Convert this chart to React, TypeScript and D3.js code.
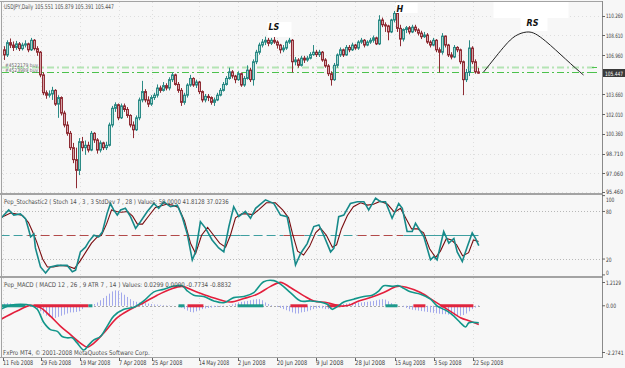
import React, { useLayoutEffect, useRef, useState } from 'react';
import * as d3 from 'd3';

// ---------- DATA ----------
const opens = [
  107.40,106.97,108.00,107.80,107.60,107.90,107.50,107.80,107.90,107.40,
  108.20,107.50,107.20,105.30,103.80,103.60,103.70,104.00,102.85,103.40,
  102.10,101.10,100.40,99.20,98.20,97.30,99.70,99.20,99.40,99.00,
  100.40,99.85,99.00,99.60,99.20,99.40,101.10,102.50,102.80,101.70,
  102.70,102.40,101.90,101.10,100.70,101.70,103.20,103.90,103.20,102.85,
  103.40,103.60,104.20,104.00,104.40,104.20,104.90,105.30,104.50,104.00,
  103.00,103.60,104.45,105.00,104.45,104.70,103.90,103.20,103.50,103.40,
  103.00,103.20,103.60,104.00,104.50,105.00,105.55,105.20,104.90,105.40,
  104.45,105.00,105.70,104.90,106.40,107.20,107.80,108.05,108.20,107.95,
  108.20,108.05,107.80,107.40,107.55,108.05,108.20,106.40,106.55,106.10,
  106.70,106.55,106.70,107.00,107.20,107.00,107.20,106.55,106.05,105.40,
  104.90,106.10,106.97,107.40,106.97,107.60,107.40,107.80,107.55,108.05,
  108.20,107.80,108.05,108.20,108.40,107.90,109.90,109.50,109.40,108.90,
  109.90,110.45,109.20,108.30,109.10,109.25,108.90,109.30,109.06,108.80,
  108.50,108.64,108.05,107.80,108.20,107.40,107.20,108.55,107.80,106.97,
  106.80,107.60,107.40,106.40,104.90,105.50,107.55,106.40,105.551,
];
const highs = [
  107.70,108.20,108.35,108.10,108.15,108.05,108.00,108.20,108.00,108.40,
  108.30,107.70,107.30,105.50,104.00,104.00,104.30,104.10,103.60,103.50,
  102.30,101.40,100.60,99.60,99.20,100.00,100.10,99.80,99.70,100.60,
  100.50,100.00,99.80,99.70,99.70,101.30,102.70,103.00,102.90,102.90,
  102.90,102.60,102.00,101.40,101.90,103.40,104.80,104.10,103.50,103.60,
  103.80,104.50,104.40,104.70,104.60,105.10,105.50,105.40,104.70,104.20,
  103.80,104.60,105.30,105.10,104.90,104.80,104.00,103.70,103.70,103.50,
  103.40,103.80,104.20,104.70,105.20,105.90,105.70,105.30,105.60,105.50,
  105.20,106.10,105.90,106.60,107.40,108.00,108.30,108.50,108.40,108.40,
  108.60,108.20,107.90,107.80,108.20,108.40,108.30,106.80,106.70,106.90,
  106.90,106.90,107.20,107.80,107.40,107.40,107.30,106.70,106.20,105.60,
  106.30,107.10,107.60,107.50,107.80,107.80,108.00,107.90,108.20,108.40,
  108.30,108.20,108.40,108.60,108.50,110.30,110.10,109.70,109.50,110.00,
  110.66,110.50,109.50,109.20,109.40,109.40,109.50,109.50,109.20,109.00,
  108.90,108.80,108.20,108.40,108.30,107.60,108.80,108.60,107.90,107.20,
  107.80,107.70,107.50,106.50,105.80,108.20,107.70,106.60,105.879,
];
const lows = [
  106.55,106.80,107.55,107.30,107.40,107.30,107.35,107.60,107.20,107.30,
  107.35,106.90,105.10,103.60,103.30,103.40,103.20,102.70,101.70,101.90,
  100.90,100.20,99.00,97.90,95.80,96.90,98.90,98.60,98.80,98.90,
  99.60,98.70,98.80,99.00,99.00,99.30,100.90,102.20,101.50,101.60,
  102.20,101.70,100.90,100.00,100.60,101.50,103.00,103.00,102.60,102.70,
  103.20,103.40,103.80,103.90,104.00,104.00,104.70,104.40,103.80,102.70,
  102.80,103.40,104.30,104.30,104.20,103.70,103.00,103.00,103.10,102.80,
  102.70,103.10,103.50,103.90,104.40,104.90,105.00,104.60,104.80,104.30,
  104.30,104.90,104.70,104.40,106.20,107.00,107.60,107.80,107.70,107.80,
  107.90,107.50,107.10,107.20,107.40,107.90,105.50,106.10,105.90,106.00,
  106.30,106.40,106.60,106.90,106.80,106.80,106.40,105.90,105.20,104.40,
  104.80,105.90,106.80,106.80,106.90,107.20,107.30,107.40,107.40,107.90,
  107.60,107.70,107.90,108.00,107.80,107.80,109.30,108.90,108.20,108.80,
  109.70,108.90,107.70,108.10,108.80,108.70,108.80,108.90,108.60,108.30,
  108.40,107.90,107.60,107.70,107.20,105.50,107.00,107.60,106.80,106.60,
  106.70,107.20,106.20,103.60,104.70,105.20,106.20,105.40,105.391,
];
const closes = [
  106.97,108.00,107.80,107.60,107.90,107.50,107.80,107.90,107.40,108.20,
  107.50,107.20,105.30,103.80,103.60,103.70,104.00,102.85,103.40,102.10,
  101.10,100.40,99.20,98.20,97.30,99.70,99.20,99.40,99.00,100.40,
  99.85,99.00,99.60,99.20,99.40,101.10,102.50,102.80,101.70,102.70,
  102.40,101.90,101.10,100.70,101.70,103.20,103.90,103.20,102.85,103.40,
  103.60,104.20,104.00,104.40,104.20,104.90,105.30,104.50,104.00,103.00,
  103.60,104.45,105.00,104.45,104.70,103.90,103.20,103.50,103.40,103.00,
  103.20,103.60,104.00,104.50,105.00,105.55,105.20,104.90,105.40,104.45,
  105.00,105.70,104.90,106.40,107.20,107.80,108.05,108.20,107.95,108.20,
  108.05,107.80,107.40,107.55,108.05,108.20,106.40,106.55,106.10,106.70,
  106.55,106.70,107.00,107.20,107.00,107.20,106.55,106.05,105.40,104.90,
  106.10,106.97,107.40,106.97,107.60,107.40,107.80,107.55,108.05,108.20,
  107.80,108.05,108.20,108.40,107.90,109.90,109.50,109.40,108.90,109.90,
  110.45,109.20,108.30,109.10,109.25,108.90,109.30,109.06,108.80,108.50,
  108.64,108.05,107.80,108.20,107.40,107.20,108.55,107.80,106.97,106.80,
  107.60,107.40,106.40,104.90,105.50,107.55,106.40,105.55,105.447,
];

const priceTicks = [110.26, 108.61, 106.96, 103.66, 102.01, 100.36, 98.71, 97.06, 95.46];
const lastPrice = 105.447;
const orderLevels = [105.92, 105.50];
const orderLabels = ['#4522179 buy', '#4523989 buy'];

const dateLabels = ['11 Feb 2008','29 Feb 2008','19 Mar 2008','7 Apr 2008','25 Apr 2008','14 May 2008',
  '2 Jun 2008','20 Jun 2008','9 Jul 2008','28 Jul 2008','15 Aug 2008','3 Sep 2008','22 Sep 2008'];
const dateBars = [-0.6, 12, 25.3, 38, 49, 64.7, 77.7, 90.7, 104, 117, 130, 143, 156.3];

// right shoulder projection (bar index, price)
const rsCurve: [number, number][] = [
  [159.7,105.54],[163.7,106.80],[167,107.80],[170.3,108.56],[174,108.89],[177,108.73],
  [180.3,108.14],[183.7,107.39],[187,106.63],[190.3,105.88],[193,105.29],
];
const patternLabels = [
  { text: 'LS', bar: 88, price: 109.06 },
  { text: 'H', bar: 130.7, price: 110.57 },
  { text: 'RS', bar: 174, price: 109.40 },
];

// Stochastic (bar index, value)
const stochMain: [number, number][] = [
  [-1.3,71],[1.4,82],[3.1,75.5],[5.3,77],[7,71],[8.1,56.6],[8.7,48],[9.8,51.5],[10.3,34],[12,10],
  [13.7,2.4],[15.3,10],[17.6,12],[20.9,12],[22.6,4],[23.7,6],[25.3,29],[27,35],[28.1,42],[29.8,50],
  [31.4,48],[32.6,54],[34.2,77.6],[35.3,90],[36.4,82],[37.6,75.5],[38.7,81.8],[40.3,84],[42,73.5],[43.7,58.7],
  [45.3,67],[47.6,80],[49.8,90],[51.4,84],[53.1,92],[55.3,86],[57.6,88],[59.2,73.5],[60.9,52],[62.6,18.8],
  [63.7,29],[65.3,67],[67,59],[69.2,44],[71.4,34],[73.1,29],[74.8,61],[76.4,86],[78.1,73.5],[80.3,80],
  [82,71.4],[83.7,84],[87,94.6],[89.8,90],[92,75.5],[94.2,73.5],[95.3,52],[97,12.5],[98.7,27],[100.9,39.5],
  [103.1,61],[104.8,63],[106.4,50],[108.7,29],[109.8,33.6],[111.4,73.5],[113.1,75.5],[115.3,90],[117.6,92.3],[119.8,92.3],
  [121.4,82],[123.7,96.7],[125.3,92.3],[127,92.3],[129.2,71.4],[131.4,90],[132.6,84],[134.2,54.7],[135.9,54.7],[137,65],
  [138.7,54.7],[139.8,48],[142,19],[143.1,23],[144.2,19],[146.4,54.7],[148.1,40],[149.8,46],[150.9,29],[152.6,17],
  [154.2,35],[155.9,53],[157,46],[158.1,37],
];
const stochSignal: [number, number][] = [
  [-1.3,72],[2,78],[3.7,77],[6,75],[8,66],[9.3,55],[10.7,42],[12.7,20],[14.3,10],[16.3,10],
  [18.7,12],[21.3,11],[23.3,8],[25.3,18],[27.3,30],[29,40],[30.7,47],[32.3,50],[34,64],[35.7,82],
  [37.3,80],[39,79],[41,80],[42.7,74],[44.3,64],[46,64],[48,74],[50.3,85],[52,87],[54,89],
  [56,88],[58,85],[60,68],[62,40],[63.7,27],[65.7,50],[67.7,60],[69.7,50],[71.7,40],[73.7,35],
  [75.3,50],[77,72],[79,77],[81,77],[82.7,76],[84.7,82],[87.3,91],[90.3,91],[92.7,82],[94.7,72],
  [96,52],[97.7,30],[99.7,25],[101.7,36],[103.7,53],[105.3,59],[107.3,50],[109.3,35],[110.7,38],[112.3,58],
  [114.3,75],[116.3,86],[118.7,91],[121,88],[123,89],[125.3,93],[127.7,89],[130,79],[132,84],[133.7,72],
  [135.7,58],[137.7,58],[139.7,53],[141.7,33],[143.7,22],[145.3,30],[147.3,46],[149,44],[150.7,38],[152.7,24],
  [154.7,28],[156.3,44],[158,42],
];
// StdDev state along the 50 line: [fromBar, toBar, state, solid]
const stochMid: [number, number, string, boolean][] = [
  [-1.3,7.7,'up',false],[7.7,61,'down',false],[61,78.7,'up',true],[78.7,93,'up',false],
  [93,100,'down',true],[100,117.7,'up',false],[117.7,133,'down',false],[133,158,'up',true],
];
const stochLevels = [80, 20];
const stochTicks = [100, 80, 20, 0];

// MACD (bar index, value)
const macdMain: [number, number][] = [
  [-1.3,-0.16],[2,0.02],[5.3,0.07],[8.7,0.02],[10.9,-0.16],[13.1,-0.76],[15.3,-1.08],[17.6,-1.16],[19.2,-1.39],[20.9,-1.45],
  [22.6,-1.45],[24.2,-1.68],[26.4,-2.0],[28.1,-1.77],[29.8,-1.54],[32,-1.39],[34.2,-0.93],[36.4,-0.47],[39.8,-0.16],[43.1,-0.07],
  [46.4,0.22],[49.8,0.63],[53.1,0.75],[56.4,0.89],[59.2,0.91],[60.9,0.68],[63.1,0.48],[66.4,0.42],[69.8,0.22],[73.1,0.14],
  [76.4,0.37],[79.8,0.42],[83.1,0.6],[86.4,1.09],[89.8,1.14],[92,0.98],[95.3,0.6],[98.7,0.22],[102,0.22],[105.3,0.17],
  [107.6,0.07],[109.2,-0.16],[110.9,-0.04],[113.1,0.17],[116.4,0.3],[119.8,0.42],[122.6,0.48],[124.8,0.68],[126.4,0.91],[129.2,0.88],
  [131.4,0.91],[133.1,0.79],[135.3,0.63],[138.7,0.52],[142,0.3],[144.2,-0.01],[147.6,-0.24],[149.8,-0.47],[152,-0.77],[153.7,-0.96],
  [154.8,-0.77],[156.4,-0.75],[158.1,-0.77],
];
const macdSignal: [number, number][] = [
  [-1.3,-0.62],[4.2,-0.24],[8.7,0.02],[12,-0.09],[15.3,-0.47],[18.7,-0.93],[22,-1.31],[25.3,-1.69],[27.6,-1.87],[29.8,-1.69],
  [33.1,-1.23],[37.6,-0.54],[42,-0.16],[46.4,0.14],[50.9,0.48],[55.3,0.75],[59.2,0.88],[63.1,0.68],[67.6,0.45],[72,0.26],
  [75.3,0.17],[79.8,0.33],[84.2,0.52],[88.7,0.88],[92,1.06],[95.3,0.83],[99.8,0.45],[103.1,0.22],[107.6,0.14],[112,-0.01],
  [114.8,0.02],[118.1,0.22],[122,0.37],[126.4,0.6],[130.9,0.88],[134.2,0.83],[138.7,0.6],[143.1,0.22],[147.6,-0.16],[152,-0.54],
  [155.3,-0.7],[158.1,-0.85],
];
const macdHist = [
  0.10,0.12,0.10,0.08,
  0.05,0.03,0.02,0.00,-0.02,-0.05,-0.08,
  -0.15,-0.25,-0.35,-0.45,-0.50,-0.55,-0.55,
  -0.50,-0.45,-0.40,-0.35,-0.30,-0.30,
  -0.28,-0.25,-0.15,-0.05,
  0.03,0.05,0.08,0.15,
  0.25,0.35,0.45,0.55,0.65,0.70,0.68,0.60,0.50,0.40,0.30,
  0.22,0.18,0.15,0.15,0.12,0.10,
  0.08,0.06,0.05,0.04,0.03,0.02,0.02,0.01,0.00,-0.02,
  -0.08,-0.15,-0.22,-0.28,-0.30,-0.25,-0.20,-0.15,
  -0.12,-0.10,-0.08,-0.06,-0.05,-0.04,-0.02,0.00,0.03,0.06,
  0.10,0.15,0.18,0.20,0.22,0.25,0.28,0.30,0.30,0.25,0.15,
  0.08,0.03,0.00,-0.05,-0.10,-0.15,-0.20,
  -0.25,-0.30,-0.35,-0.35,-0.30,-0.28,-0.25,-0.20,-0.15,
  -0.12,-0.10,-0.12,-0.15,-0.15,-0.12,-0.08,-0.05,
  0.05,0.08,0.10,0.12,0.12,0.14,0.15,0.15,0.17,0.18,0.20,0.22,0.25,0.28,0.30,0.28,
  0.20,0.12,0.06,0.02,0.00,
  -0.05,-0.10,-0.15,-0.18,-0.20,-0.22,-0.24,-0.26,-0.28,-0.30,-0.32,-0.34,-0.36,-0.38,-0.38,-0.40,-0.42,-0.44,-0.45,-0.45,-0.42,-0.35,-0.25,
  -0.15,-0.08,0.03,
];
// ATR state markers on the zero line: [fromBar, toBar, state]
const macdZeroMarks: [number, number, string][] = [
  [-1.3,7,'up'],[9.7,28,'down'],[28,29.3,'up'],[58,60,'up'],[61,66.3,'down'],[77.7,86.3,'up'],
  [95.3,101,'down'],[107.7,112,'down'],[127,131,'up'],[136.3,140.3,'down'],[145.3,156.3,'down'],
];
const macdTicks = [1.2129, 0, -2.2741];
const macdTickText = ['1.2129', '0.00', '-2.2741'];

// ---------- LAYOUT / STYLE ----------
const W = 625, H = 368;
const L = 2, R = 602;
const MAIN = [2, 193], STO = [195, 276], MAC = [278, 357];
const BG = '#f7f7f7';
const BORDER = '#a3a3a3';
const BULL_LINE = '#2b8a85', BULL_FILL = '#a6d5d1';
const BEAR_LINE = '#8e2c34', BEAR_FILL = '#d7a4a8';
const FONT = 'DejaVu Sans, sans-serif';

const x = d3.scaleLinear().domain([0, 158]).range([4.5, 478.5]);
const yP = d3.scaleLinear().domain([95.46, 110.26]).range([192.3, 15.7]);
const yS = d3.scaleLinear().domain([0, 100]).range([274.9, 195.6]);
const yM = d3.scaleLinear().domain([-2.2741, 1.2129]).range([356, 279]);

// Text squeezed horizontally to a target width (MT4's narrow pixel font)
const Txt = ({ x, y, w, s = 6.5, fill = '#404040', children }: any) => {
  const ref = useRef<SVGTextElement>(null);
  const [k, setK] = useState(0.7);
  useLayoutEffect(() => {
    if (ref.current) {
      const n = ref.current.getComputedTextLength();
      if (n > 0) setK(w / n);
    }
  }, [w, children, s]);
  return (
    <text ref={ref} transform={`translate(${x},${y}) scale(${k},1)`} fontSize={s} fill={fill} fontFamily={FONT}>
      {children}
    </text>
  );
};

export default function App() {
  const lineS = d3.line<[number, number]>().x(d => x(d[0])).y(d => yS(d[1]));
  const lineM = d3.line<[number, number]>().x(d => x(d[0])).y(d => yM(d[1])).curve(d3.curveCatmullRom);
  const lineRS = d3.line<[number, number]>().x(d => x(d[0])).y(d => yP(d[1])).curve(d3.curveNatural);
  const stateColS = (s: string) => (s === 'up' ? '#3f9fa0' : '#b24a4a');
  const stateColM = (s: string) => (s === 'up' ? '#1f9a8c' : '#e0263e');
  const charW = 2.75;

  return (
    <svg width={W} height={H} style={{ position: 'absolute', left: 0, top: 0, background: BG }}>
      <defs>
        <clipPath id="cMain"><rect x={L} y={MAIN[0]} width={R - L} height={MAIN[1] - MAIN[0]} /></clipPath>
        <clipPath id="cSto"><rect x={L} y={STO[0]} width={R - L} height={STO[1] - STO[0]} /></clipPath>
        <clipPath id="cMac"><rect x={L} y={MAC[0]} width={R - L} height={MAC[1] - MAC[0]} /></clipPath>
      </defs>
      <rect x={0} y={0} width={W} height={H} fill={BG} />

      {/* grid */}
      <g stroke="#dedede" strokeWidth={1} strokeDasharray="1,3" shapeRendering="crispEdges">
        {dateBars.map((b, i) => (
          <line key={'vg' + i} x1={Math.round(x(b)) + 0.5} x2={Math.round(x(b)) + 0.5} y1={MAIN[0]} y2={MAC[1]} />
        ))}
        {priceTicks.map((p, i) => (
          <line key={'hg' + i} x1={L} x2={R} y1={Math.round(yP(p)) + 0.5} y2={Math.round(yP(p)) + 0.5} />
        ))}
      </g>

      {/* main panel */}
      <g clipPath="url(#cMain)">
        {orderLevels.map((p, i) => (
          <line key={'ol' + i} x1={L} x2={R - 8} y1={yP(p)} y2={yP(p)}
            stroke={i === 0 ? '#b4e4b4' : '#4cc24c'} strokeWidth={i === 0 ? 2 : 1.2} strokeDasharray="7,3,2,3" />
        ))}
        {orderLevels.map((p, i) => (
          <line key={'om' + i} x1={R - 10} x2={R - 5} y1={yP(p)} y2={yP(p)} stroke="#4cc24c" strokeWidth={1} />
        ))}
        {opens.map((o, i) => {
          const c = closes[i];
          const up = c >= o;
          const cx = x(i);
          const top = yP(Math.max(o, c));
          const bot = yP(Math.min(o, c));
          return (
            <g key={'c' + i}>
              <line x1={cx} x2={cx} y1={yP(highs[i])} y2={yP(lows[i])} stroke={up ? BULL_LINE : BEAR_LINE} strokeWidth={1} />
              <rect x={cx - 1} y={top} width={2} height={Math.max(bot - top, 0.6)}
                fill={up ? BULL_FILL : BEAR_FILL} stroke={up ? BULL_LINE : BEAR_LINE} strokeWidth={1} />
            </g>
          );
        })}
        {/* label backgrounds */}
        <rect x={x(patternLabels[0].bar) - 1} y={yP(patternLabels[0].price) - 8} width={24} height={15} fill="#ffffff" />
        <rect x={x(patternLabels[1].bar) - 1} y={yP(patternLabels[1].price) - 9} width={22} height={10} fill="#ffffff" />
        <rect x={x(patternLabels[2].bar) - 33} y={0} width={75} height={18} fill="#ffffff" />
        <rect x={x(patternLabels[2].bar) - 6} y={18} width={27} height={13} fill="#ffffff" />
        <path d={lineRS(rsCurve) || ''} fill="none" stroke="#222" strokeWidth={1} />
        {patternLabels.map((a, i) => (
          <text key={'pl' + i} x={x(a.bar)} y={yP(a.price)} fontSize={8} fontWeight="bold" fontStyle="italic"
            fontFamily={FONT} fill="#111">{a.text}</text>
        ))}
        {orderLabels.map((t, i) => (
          <Txt key={'olt' + i} x={5} y={yP(orderLevels[i]) - 0.5} w={33} s={5} fill="#6a6a6a">{t}</Txt>
        ))}
      </g>
      <Txt x={4} y={9} w={110} s={6.5} fill="#505050">USDJPY,Daily  105.551 105.879 105.391 105.447</Txt>

      {/* stochastic panel */}
      <g clipPath="url(#cSto)">
        {stochLevels.map((v, i) => (
          <line key={'sl' + i} x1={L} x2={R} y1={Math.round(yS(v)) + 0.5} y2={Math.round(yS(v)) + 0.5}
            stroke="#b8b8b8" strokeDasharray="1,2" />
        ))}
        {stochMid.map((s, i) => (
          <line key={'sm' + i} x1={x(s[0])} x2={x(s[1])} y1={Math.round(yS(50)) + 0.5} y2={Math.round(yS(50)) + 0.5}
            stroke={stateColS(s[2])} strokeWidth={1} strokeDasharray={s[3] ? undefined : '9,4'} />
        ))}
        <path d={lineS(stochSignal) || ''} fill="none" stroke="#7a0d10" strokeWidth={1.1} />
        <path d={lineS(stochMain) || ''} fill="none" stroke="#178a8a" strokeWidth={1.6} />
      </g>
      <Txt x={4} y={204} w={225} s={6.5} fill="#505050">Pep_Stochastic2  ( Stoch 14 , 3 , 3   StdDev 7 , 28 )   Values: 50.0000 41.8128 37.0236</Txt>

      {/* MACD panel */}
      <g clipPath="url(#cMac)">
        <line x1={L} x2={x(158) + 2} y1={Math.round(yM(0)) + 0.5} y2={Math.round(yM(0)) + 0.5}
          stroke="#a8a8a8" strokeDasharray="2,2" />
        {macdHist.map((v, i) => (
          <line key={'h' + i} x1={x(i)} x2={x(i)} y1={yM(0)} y2={yM(v)} stroke="#a3a9ec" strokeWidth={1} />
        ))}
        {macdZeroMarks.map((m, i) => (
          <line key={'zm' + i} x1={x(m[0])} x2={x(m[1])} y1={yM(0)} y2={yM(0)}
            stroke={stateColM(m[2])} strokeWidth={3} />
        ))}
        <path d={lineM(macdSignal) || ''} fill="none" stroke="#e31f3c" strokeWidth={1.6} />
        <path d={lineM(macdMain) || ''} fill="none" stroke="#12968a" strokeWidth={1.6} />
      </g>
      <Txt x={4} y={287} w={228} s={6.5} fill="#505050">Pep_MACD  ( MACD 12 , 26 , 9   ATR 7 , 14 )   Values: 0.0299 0.0000 -0.7734 -0.8832</Txt>
      <Txt x={3} y={355} w={147} s={6.5} fill="#505050">FxPro MT4, © 2001-2008 MetaQuotes Software Corp.</Txt>

      {/* panel borders and separators */}
      <g shapeRendering="crispEdges">
        <rect x={0} y={MAIN[1]} width={R + 1} height={2} fill={BORDER} />
        <rect x={0} y={STO[1]} width={R + 1} height={2} fill={BORDER} />
        <line x1={L - 0.5} x2={L - 0.5} y1={1} y2={MAC[1]} stroke={BORDER} />
        <line x1={0} x2={R} y1={1.5} y2={1.5} stroke={BORDER} />
        <line x1={0} x2={R} y1={MAC[1] + 0.5} y2={MAC[1] + 0.5} stroke={BORDER} />
        <line x1={R + 0.5} x2={R + 0.5} y1={1} y2={MAC[1] + 1} stroke="#8a8a8a" />
      </g>

      {/* right axis: price */}
      <g shapeRendering="crispEdges">
        {priceTicks.map((p, i) => (
          <g key={'pt' + i}>
            <line x1={R} x2={R + 3} y1={Math.round(yP(p)) + 0.5} y2={Math.round(yP(p)) + 0.5} stroke="#666" />
            <Txt x={606} y={Math.min(yP(p) + 2.5, MAIN[1] + 1)} w={17} s={6}>{p.toFixed(3)}</Txt>
          </g>
        ))}
        <rect x={R + 1} y={yP(lastPrice) - 4} width={W - R - 1} height={8} fill="#3a3a3a" />
        <Txt x={605} y={yP(lastPrice) + 2.5} w={18} s={6} fill="#ffffff">{lastPrice.toFixed(3)}</Txt>
      </g>

      {/* right axis: stochastic */}
      {stochTicks.map((v, i) => {
        const yy = Math.min(Math.max(yS(v), STO[0] + 4.5), STO[1] - 4);
        return (
          <g key={'st' + i}>
            <line x1={R} x2={R + 3} y1={yS(v)} y2={yS(v)} stroke="#666" />
            <Txt x={606} y={yy + 2.5} w={String(v).length * 2.8} s={6}>{String(v)}</Txt>
          </g>
        );
      })}

      {/* right axis: MACD */}
      {macdTicks.map((v, i) => {
        const yy = Math.min(Math.max(yM(v), MAC[0] + 4.5), MAC[1] - 4.5);
        return (
          <g key={'mt' + i}>
            <line x1={R} x2={R + 3} y1={yy} y2={yy} stroke="#666" />
            <Txt x={606} y={yy + 2.5} w={macdTickText[i].length * 2.5} s={6}>{macdTickText[i]}</Txt>
          </g>
        );
      })}

      {/* date axis */}
      {dateLabels.map((d, i) => {
        const xx = Math.round(x(dateBars[i])) + 0.5;
        return (
          <g key={'d' + i}>
            <line x1={xx} x2={xx} y1={MAC[1] + 1} y2={MAC[1] + 4} stroke="#666" />
            <Txt x={xx - 0.5} y={365} w={d.length * charW} s={6.5}>{d}</Txt>
          </g>
        );
      })}
    </svg>
  );
}
